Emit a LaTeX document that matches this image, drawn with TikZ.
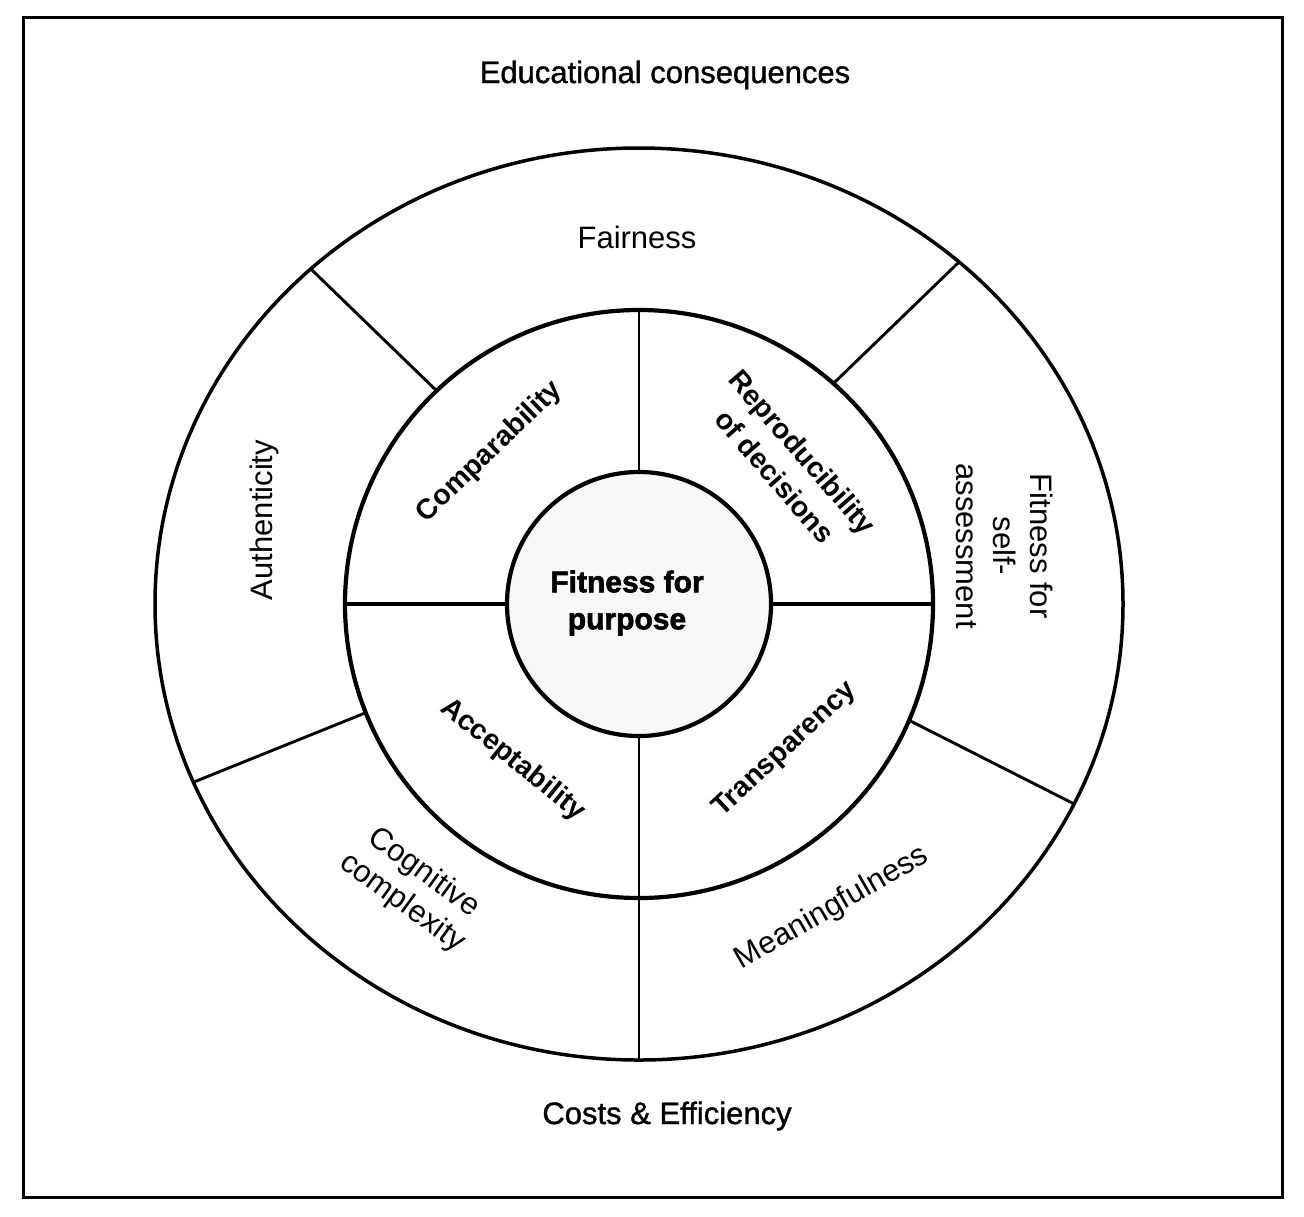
\documentclass[tikz,border=0pt]{standalone}
\usepackage{fontspec}
\setmainfont{Liberation Sans}
\newfontfamily\semiheavy[FakeBold=1.2]{Liberation Sans}
\newfontfamily\heavyfont[FakeBold=2]{Liberation Sans}
\usetikzlibrary{calc}
\begin{document}
\begin{tikzpicture}[x=0.5pt,y=-0.5pt,
  lbl/.style={font=\fontsize{15.5}{18.5}\selectfont, align=center, inner sep=0pt},
  hlbl/.style={font=\semiheavy\fontsize{15.5}{18.5}\selectfont, align=center, inner sep=0pt},
  blbl/.style={font=\fontsize{14.2}{18.5}\selectfont\bfseries, align=center, inner sep=0pt},
  outerring/.style={draw=black, line width=1.75pt},
  innerring/.style={draw=black, line width=2.1pt},
  divider/.style={draw=black, line width=1.45pt}]
\useasboundingbox (0,0) rectangle (1304,1216);
\draw[line width=1.5pt] (23,17) rectangle (1282,1197);
\coordinate (c) at (639,604);
% rings
\draw[outerring] (c) ellipse [x radius=242pt, y radius=228pt];
\draw[innerring] (c) circle [radius=147pt];
\draw[innerring, fill=black!3] (c) circle [radius=66pt];
% points on rings
\coordinate (itop) at ($(c)+(90:66pt)$);
\coordinate (ibot) at ($(c)+(270:66pt)$);
\coordinate (ileft) at ($(c)+(180:66pt)$);
\coordinate (iright) at ($(c)+(0:66pt)$);
\coordinate (mtop) at ($(c)+(90:147pt)$);
\coordinate (mleft) at ($(c)+(180:147pt)$);
\coordinate (mright) at ($(c)+(0:147pt)$);
\coordinate (obot) at ($(c)+(270:242pt and 228pt)$);
\coordinate (mul) at ($(c)+(133.5:147pt)$);
\coordinate (oul) at ($(c)+(132.7:242pt and 228pt)$);
\coordinate (mur) at ($(c)+(48.6:147pt)$);
\coordinate (our) at ($(c)+(48.6:242pt and 228pt)$);
\coordinate (mll) at ($(c)+(201.7:147pt)$);
\coordinate (oll) at ($(c)+(203:242pt and 228pt)$);
\coordinate (mlr) at ($(c)+(336.7:147pt)$);
\coordinate (olr) at ($(c)+(334:242pt and 228pt)$);
% dividers
\draw[divider] (itop) -- (mtop);
\draw[divider] (ibot) -- (obot);
\draw[innerring] (mleft) -- (ileft);
\draw[innerring] (iright) -- (mright);
\draw[divider] (mul) -- (oul);
\draw[divider] (mur) -- (our);
\draw[divider] (mll) -- (oll);
\draw[divider] (mlr) -- (olr);
% labels
\node[hlbl] (edu) at (665,75) {Educational consequences};
\node[lbl] (fair) at (637,237) {Fairness};
\node[hlbl] (costs) at (667,1116) {Costs \& Efficiency};
\node[lbl, rotate=90] (auth) at (264,520) {Authenticity};
\node[lbl, rotate=-90] (fsa) at (1005,546) {Fitness for\\self-\\assessment};
\node[lbl, rotate=30] (mean) at (832,908) {Meaningfulness};
\node[lbl, rotate=-36] (cog) at (413,888) {Cognitive\\complexity};
\node[blbl, rotate=44] (comp) at (490,452) {Comparability};
\node[blbl, rotate=-49] (repr) at (789,464) {Reproducibility\\of decisions};
\node[blbl, rotate=-39] (acc) at (513,760) {Acceptability};
\node[blbl, rotate=43] (trans) at (785,750) {Transparency};
\node[font=\heavyfont\fontsize{15}{18.5}\selectfont\bfseries, align=center, inner sep=0pt] (fit) at (627,603) {Fitness for\\purpose};
\end{tikzpicture}
\end{document}
